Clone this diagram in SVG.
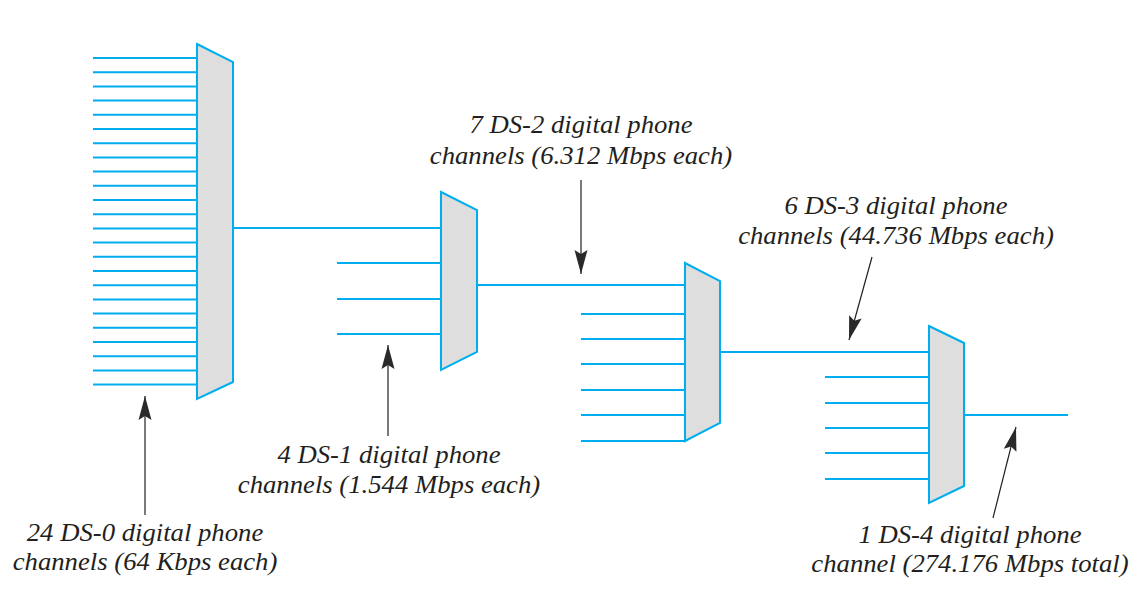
<svg xmlns="http://www.w3.org/2000/svg" width="1143" height="600" viewBox="0 0 1143 600">
<defs>
<style>
.w{stroke:#00aeef;stroke-width:2;fill:none}
.mux{stroke:#00aeef;stroke-width:2;fill:#dddedd;stroke-linejoin:miter}
.ar{stroke:#231f20;stroke-width:1.2;fill:none}
.lbl{font-family:"Liberation Serif","Times New Roman",serif;font-style:italic;font-size:24.5px;fill:#231f20;text-anchor:middle}
</style>
<marker id="ah" markerUnits="userSpaceOnUse" viewBox="-26 -8 28 16" refX="0" refY="0" markerWidth="28" markerHeight="16" orient="auto">
<path d="M0,0 L-24,-6.5 L-20,0 L-24,6.5 Z" fill="#2a2a2a"/>
</marker>
</defs>
<rect width="1143" height="600" fill="#fff"/>
<g id="connectors">
<path class="w" d="M93,58H197M93,72.2H197M93,86.4H197M93,100.6H197M93,114.8H197M93,129H197M93,143.2H197M93,157.4H197M93,171.6H197M93,185.8H197M93,200H197M93,214.2H197M93,228.4H197M93,242.6H197M93,256.8H197M93,271H197M93,285.2H197M93,299.4H197M93,313.6H197M93,327.8H197M93,342H197M93,356.2H197M93,370.4H197M93,384.6H197"/>
<path class="w" d="M233,228H441M337,263H441M337,299H441M337,334H441"/>
<path class="w" d="M477,285H685M581,314H685M581,339H685M581,364H685M581,390H685M581,415H685M581,441H685"/>
<path class="w" d="M720,352H929M825,377H929M825,403H929M825,428H929M825,453H929M825,479H929"/>
<path class="w" d="M964,415H1068"/>
<line class="ar" x1="145" y1="515" x2="145" y2="396" marker-end="url(#ah)"/>
<line class="ar" x1="388" y1="436" x2="388" y2="345" marker-end="url(#ah)"/>
<line class="ar" x1="581" y1="180" x2="581" y2="274" marker-end="url(#ah)"/>
<line class="ar" x1="872" y1="257" x2="849" y2="340" marker-end="url(#ah)"/>
<line class="ar" x1="993" y1="518" x2="1016" y2="427" marker-end="url(#ah)"/>
</g>
<g id="mux1"><polygon class="mux" points="197,44 233,62 233,382 197,399"/></g>
<g id="mux2"><polygon class="mux" points="441,192 477,210 477,352 441,370"/></g>
<g id="mux3"><polygon class="mux" points="685,263 720,281 720,423 685,441"/></g>
<g id="mux4"><polygon class="mux" points="929,326 964,343 964,486 929,503"/></g>
<g id="label-ds2"><text class="lbl" transform="translate(581,133) scale(1.09,1)">7 DS-2 digital phone</text><text class="lbl" transform="translate(581,164) scale(1.09,1)">channels (6.312 Mbps each)</text></g>
<g id="label-ds3"><text class="lbl" transform="translate(896,214) scale(1.09,1)">6 DS-3 digital phone</text><text class="lbl" transform="translate(896,244) scale(1.09,1)">channels (44.736 Mbps each)</text></g>
<g id="label-ds1"><text class="lbl" transform="translate(389,463) scale(1.09,1)">4 DS-1 digital phone</text><text class="lbl" transform="translate(389,493) scale(1.09,1)">channels (1.544 Mbps each)</text></g>
<g id="label-ds0"><text class="lbl" transform="translate(145,541) scale(1.09,1)">24 DS-0 digital phone</text><text class="lbl" transform="translate(145,570) scale(1.09,1)">channels (64 Kbps each)</text></g>
<g id="label-ds4"><text class="lbl" transform="translate(970,543) scale(1.09,1)">1 DS-4 digital phone</text><text class="lbl" transform="translate(970,572) scale(1.09,1)">channel (274.176 Mbps total)</text></g>
</svg>
